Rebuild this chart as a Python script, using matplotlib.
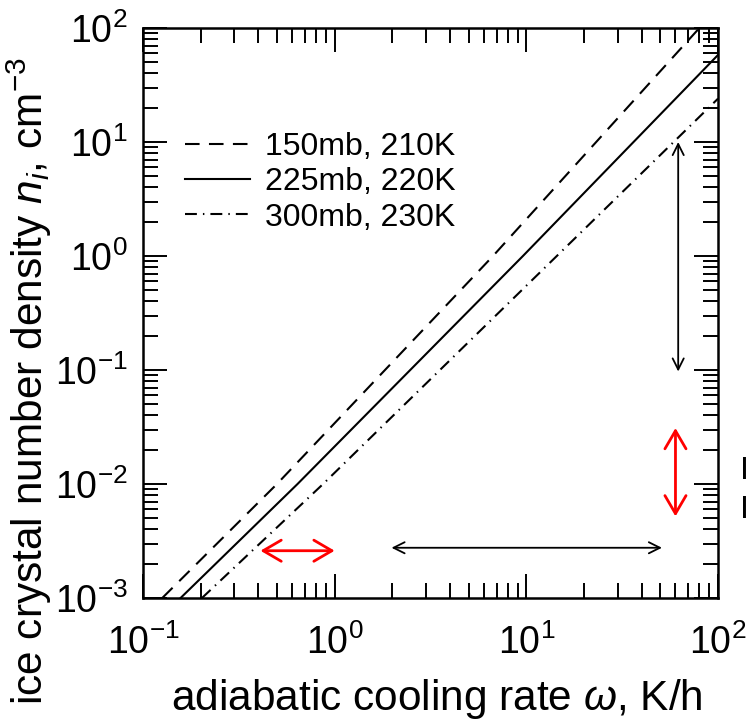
import matplotlib
matplotlib.use("Agg")
import matplotlib.pyplot as plt

plt.rcParams['font.family'] = ['Liberation Sans', 'DejaVu Sans']
plt.rcParams['mathtext.fontset'] = 'custom'
plt.rcParams['mathtext.rm'] = 'Liberation Sans'
plt.rcParams['mathtext.it'] = 'Liberation Sans:italic'

# values (cooling rate K/h, number density cm^-3)
w_150 = [0.126, 0.50, 6.7, 80]
n_150 = [1e-3, 1e-2, 1.0, 100]
w_225 = [0.157, 0.64, 9.6, 100]
n_225 = [1e-3, 1e-2, 1.0, 58]
w_300 = [0.203, 0.87, 65.6, 100]
n_300 = [1e-3, 1e-2, 12, 24]
labels = ["150mb, 210K", "225mb, 220K", "300mb, 230K"]

# arrows: (x0, y0, x1, y1)
black_v = (62, 10, 62, 0.097)
red_v = (60, 0.031, 60, 0.0052)
black_h = (1.98, 0.00276, 51, 0.00276)
red_h = (0.41, 0.0026, 1.0, 0.0026)

fig = plt.figure(figsize=(7.49, 7.27), dpi=100)
ax = fig.add_axes([0.1909, 0.1774, 0.7677, 0.7841])

ax.plot(w_150, n_150, color='k', lw=1.5, ls=(0, (7, 4.5)), label=labels[0])
ax.plot(w_225, n_225, color='k', lw=1.5, ls='-', label=labels[1])
ax.plot(w_300, n_300, color='k', lw=1.5, ls=(0, (5.7, 2.9, 0.7, 2.9)), label=labels[2])

ax.set_xscale('log')
ax.set_yscale('log')
ax.set_xlim(0.1, 100)
ax.set_ylim(1e-3, 1e2)

for a, col, lw, hl, hw in [(black_v, 'k', 1.3, 0.4, 0.2), (black_h, 'k', 1.3, 0.4, 0.2),
                           (red_v, 'red', 2.0, 0.65, 0.38), (red_h, 'red', 2.0, 0.65, 0.38)]:
    ax.annotate('', xy=(a[2], a[3]), xytext=(a[0], a[1]),
                arrowprops=dict(arrowstyle='<->,head_length=%g,head_width=%g' % (hl, hw),
                                color=col, lw=lw, mutation_scale=20,
                                shrinkA=0, shrinkB=0))

for s in ax.spines.values():
    s.set_linewidth(1.8)
ax.tick_params(which='both', direction='in', top=True, right=True, width=1.4)
ax.tick_params(which='major', length=17, labelsize=27)
ax.tick_params(axis='x', which='major', pad=19)
ax.tick_params(axis='y', which='major', pad=11)
ax.tick_params(which='minor', length=11)

ax.legend(loc='upper left', bbox_to_anchor=(0.073, 0.818), frameon=False,
          fontsize=23, handlelength=2.04, handletextpad=0.47, labelspacing=0.17,
          borderpad=0, borderaxespad=0)

fig.text(0.5835, 1 - 710 / 727, r'adiabatic cooling rate $\omega$, K/h',
         fontsize=30.5, ha='center', va='baseline')
fig.text(0.039, 1 - 381 / 727, r'ice crystal number density $n_i$, cm$^{-3}$',
         fontsize=30.5, rotation=90, ha='center', va='center')

# text cut off at the right edge of the reference picture
fig.text(1.0, 1 - 471 / 727, 'I', fontsize=23, ha='right', va='center')
fig.text(1.0, 1 - 510 / 727, 'I', fontsize=23, ha='right', va='center')

fig.savefig('out.png', dpi=100)
